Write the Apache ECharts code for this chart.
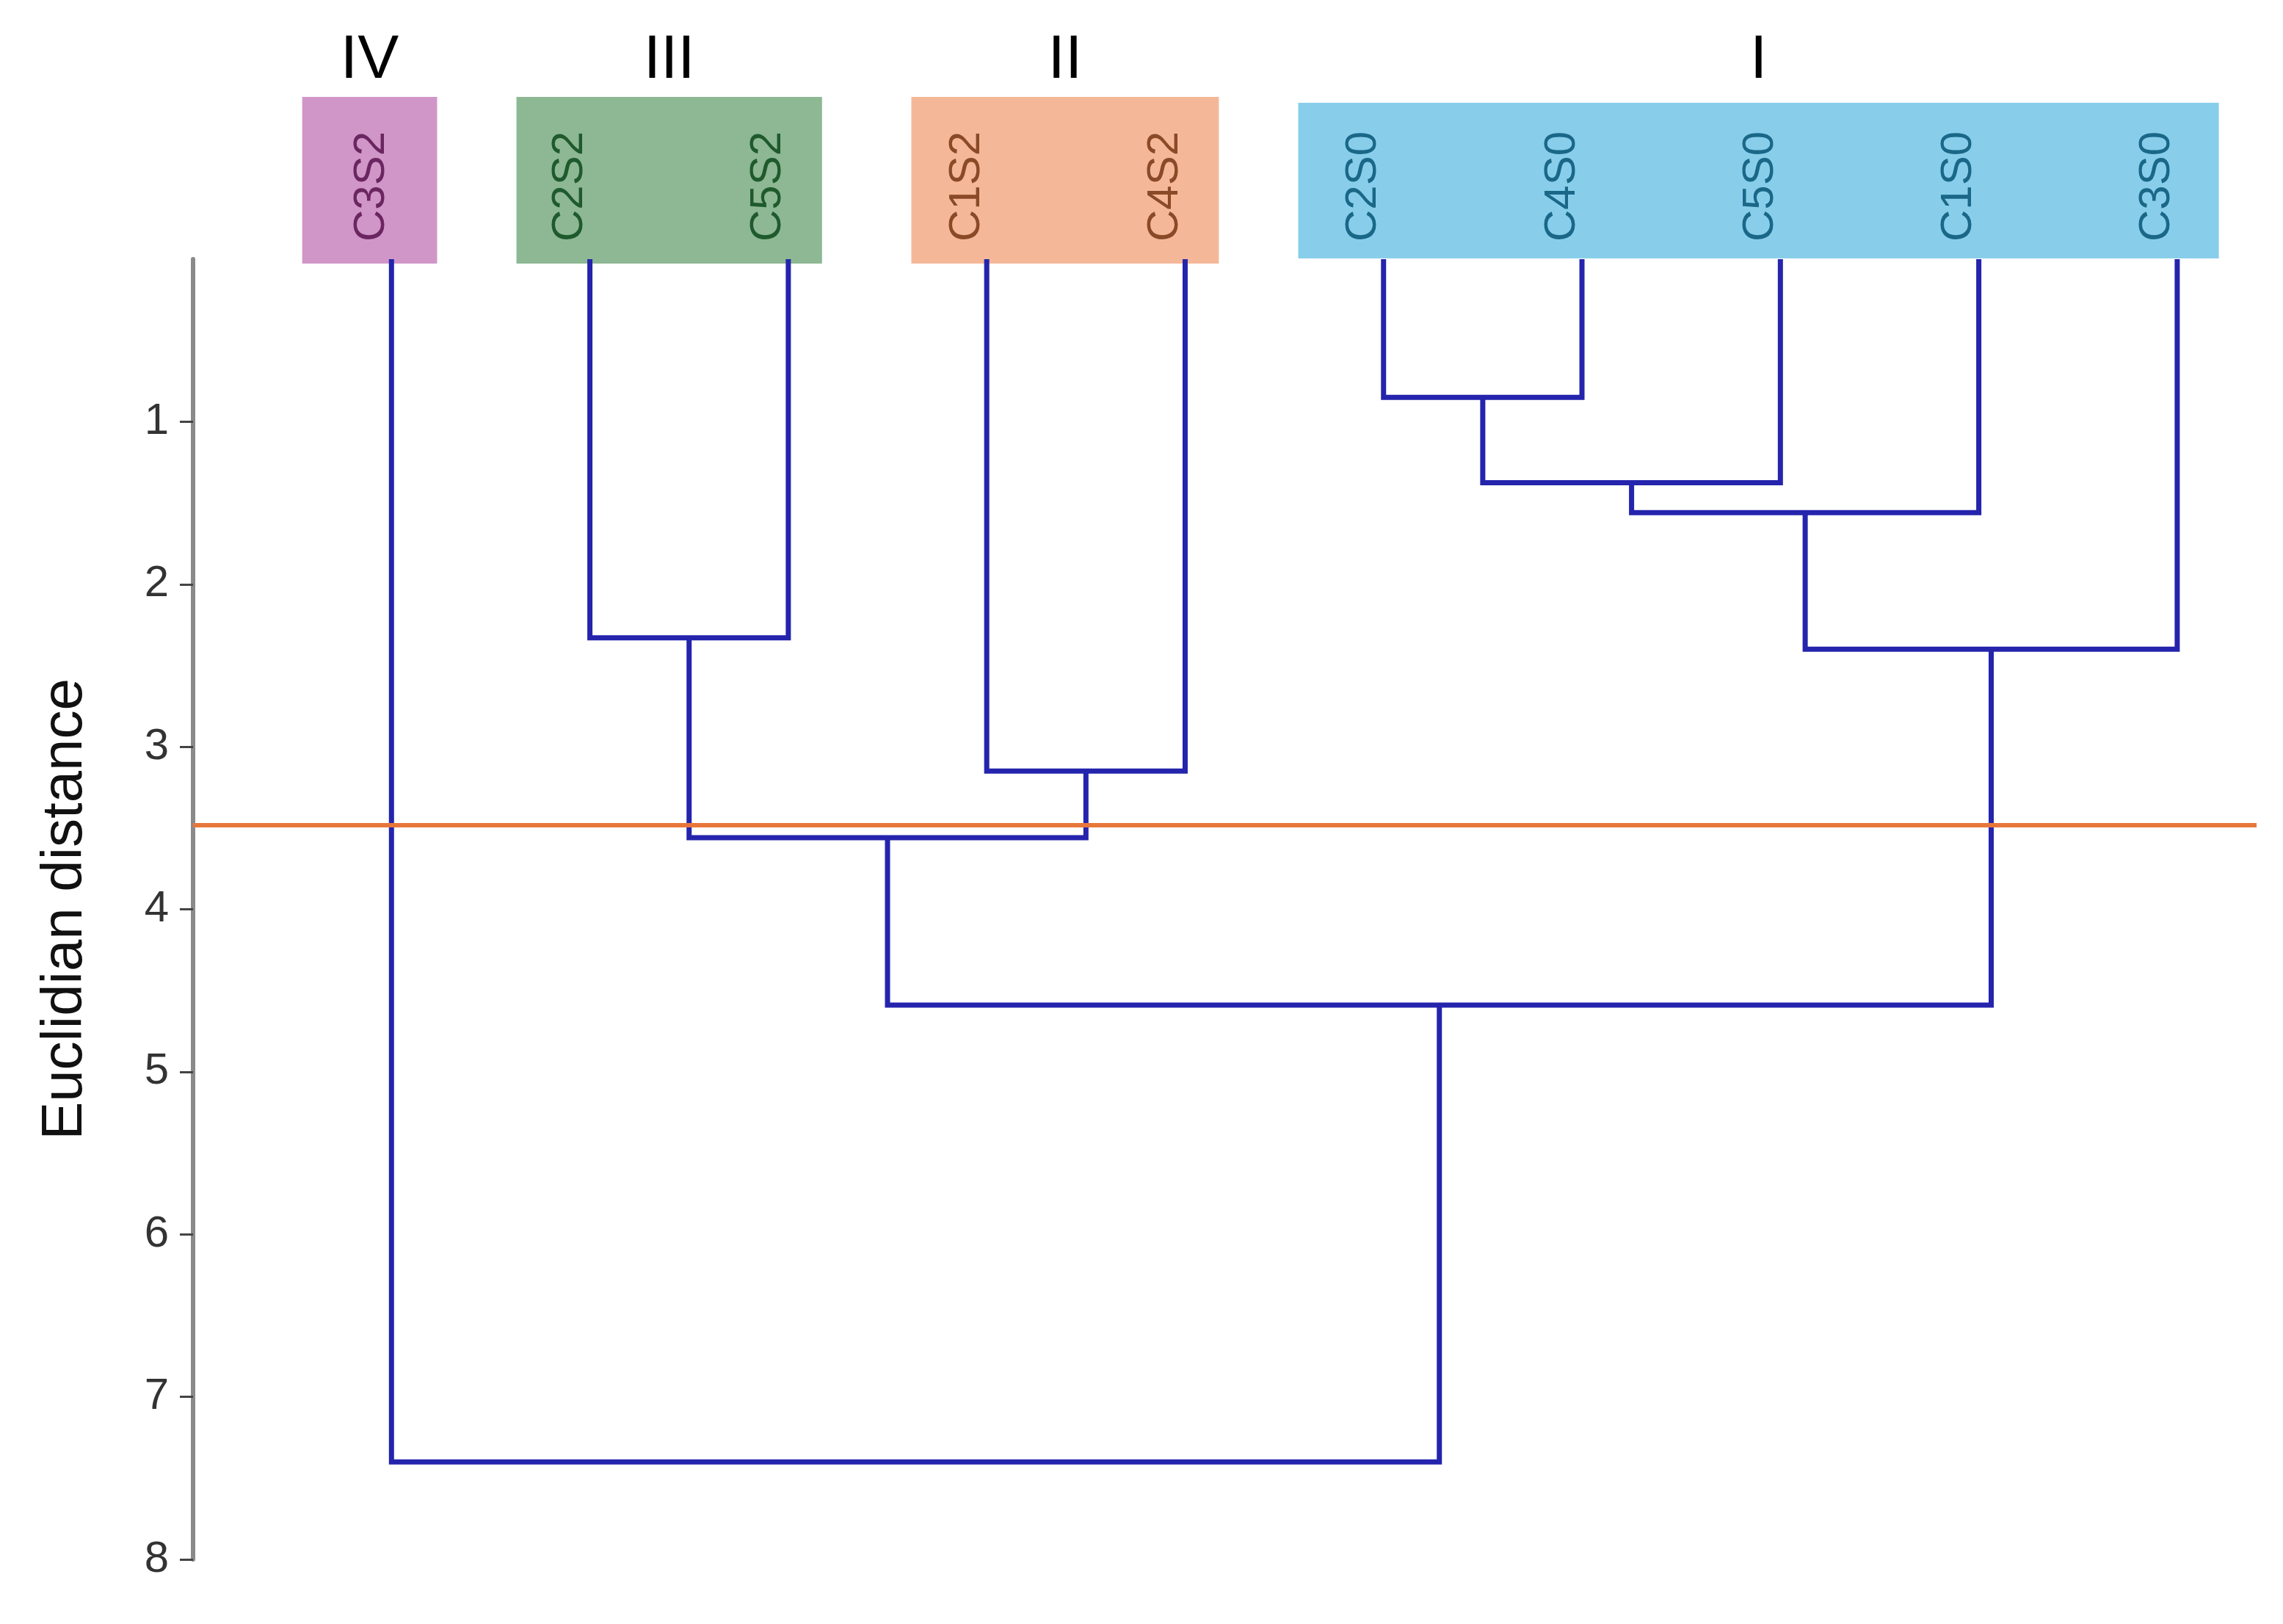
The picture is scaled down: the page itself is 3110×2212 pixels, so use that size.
<!DOCTYPE html>
<html>
<head>
<meta charset="utf-8">
<script src="https://cdn.jsdelivr.net/npm/echarts@6/dist/echarts.min.js"></script>
<style>
html,body{margin:0;padding:0;background:#fff;}
#main{width:3110px;height:2212px;}
</style>
</head>
<body>
<div id="main"></div>
<script>
// ---- data ----
const leaves = ['C3S2','C2S2','C5S2','C1S2','C4S2','C2S0','C4S0','C5S0','C1S0','C3S0'];
// linkage: node ids 0..9 are leaves, 10.. are merged clusters (in order)
const mergeLeft   = [5, 10, 11, 1, 12, 3, 13, 16, 0];
const mergeRight  = [6, 7, 8, 2, 9, 4, 15, 14, 17];
const mergeHeight = [0.85, 1.375, 1.56, 2.33, 2.40, 3.15, 3.56, 4.59, 7.40];
const groupNames = ['IV', 'III', 'II', 'I'];
const groupFirst = [0, 1, 3, 5];
const groupLast  = [0, 2, 4, 9];
const cutHeight = 3.48;
const axisMin = 0, axisMax = 8, axisStep = 1;
const yTickValues = [1, 2, 3, 4, 5, 6, 7, 8];
const axisTitle = 'Euclidian distance';

// ---- styles ----
const FONT = "'Liberation Sans', Arial, sans-serif";
const groupFill = ['#d196c8', '#8db893', '#f4b899', '#88ceea'];
const groupText = ['#6a2660', '#1f5a2c', '#8a4a28', '#1a6788'];
const boxPadLeft  = [0.45, 0.37, 0.38, 0.43];
const boxPadRight = [0.23, 0.17, 0.17, 0.21];
const boxTopPx    = [221, 221, 221, 213];
const boxBottomPx = [6, 6, 6, -1];
const linkColor = '#2424ad';

// ---- derived tree layout ----
const nodeX = leaves.map((_, i) => i);
const nodeH = leaves.map(() => 0);
const links = [];
mergeLeft.forEach((l, k) => {
  const r = mergeRight[k];
  const h = mergeHeight[k];
  links.push([nodeX[l], nodeX[r], nodeH[l], nodeH[r], h]);
  nodeX.push((nodeX[l] + nodeX[r]) / 2);
  nodeH.push(h);
});
const leafGroup = leaves.map((_, i) => groupFirst.findIndex((f, g) => i >= f && i <= groupLast[g]));

const chart = echarts.init(document.getElementById('main'), null, {renderer: 'canvas'});
chart.setOption({
  animation: false,
  backgroundColor: '#fff',
  grid: {left: 263, right: 36, top: 353, bottom: 88, containLabel: false},
  xAxis: {type: 'value', min: -1, max: 9.4, show: false},
  yAxis: {
    type: 'value', inverse: true, min: axisMin, max: axisMax, interval: axisStep,
    position: 'left',
    name: axisTitle, nameLocation: 'middle', nameRotate: 90, nameGap: 135,
    nameMoveOverlap: false,
    nameTextStyle: {fontSize: 78, fontFamily: FONT, color: '#111'},
    axisLine: {show: true, onZero: false, lineStyle: {color: '#8a8a8a', width: 6}},
    axisTick: {show: true, length: 18, inside: false, customValues: yTickValues,
               lineStyle: {color: '#444', width: 3}},
    axisLabel: {
      margin: 33, fontSize: 60, fontFamily: FONT, color: '#333',
      customValues: yTickValues,
      formatter: v => String(v)
    },
    splitLine: {show: false}
  },
  series: [
    {
      type: 'custom', name: 'boxes', clip: false, z: 1,
      data: groupFirst.map((f, g) => [f, groupLast[g], g]),
      renderItem: (params, api) => {
        const g = api.value(2);
        const p0 = api.coord([api.value(0) - boxPadLeft[g], 0]);
        const p1 = api.coord([api.value(1) + boxPadRight[g], 0]);
        const top = p0[1] - boxTopPx[g], bottom = p0[1] + boxBottomPx[g];
        const cx = (p0[0] + p1[0]) / 2;
        return {
          type: 'group',
          children: [
            {type: 'rect', shape: {x: p0[0], y: top, width: p1[0] - p0[0], height: bottom - top},
             style: {fill: groupFill[g]}},
            {type: 'text', x: cx, y: p0[1] - 270,
             style: {text: groupNames[g], fontSize: 84, fontFamily: FONT, fill: '#000',
                     align: 'center', verticalAlign: 'middle'}}
          ]
        };
      }
    },
    {
      type: 'custom', name: 'links', clip: false, z: 3,
      data: links,
      renderItem: (params, api) => {
        const a = api.coord([api.value(0), api.value(2)]);
        const b = api.coord([api.value(0), api.value(4)]);
        const c = api.coord([api.value(1), api.value(4)]);
        const d = api.coord([api.value(1), api.value(3)]);
        return {type: 'polyline', shape: {points: [a, b, c, d]},
                style: {stroke: linkColor, lineWidth: 7, fill: null, lineJoin: 'miter', lineCap: 'butt'}};
      },
      markLine: {
        silent: true, symbol: 'none', label: {show: false},
        lineStyle: {color: '#e8763a', width: 6, type: 'solid'},
        data: [{yAxis: cutHeight}]
      }
    },
    {
      type: 'custom', name: 'leafLabels', clip: false, z: 4,
      data: leaves.map((name, i) => [i, leafGroup[i]]),
      renderItem: (params, api) => {
        const i = api.value(0), g = api.value(1);
        const p = api.coord([i, 0]);
        return {type: 'text', x: p[0] - 27, y: p[1] - 99, rotation: Math.PI / 2,
                style: {text: leaves[i], fontSize: 60, fontFamily: FONT, fill: groupText[g],
                        align: 'center', verticalAlign: 'middle'}};
      }
    }
  ]
});
</script>
</body>
</html>
